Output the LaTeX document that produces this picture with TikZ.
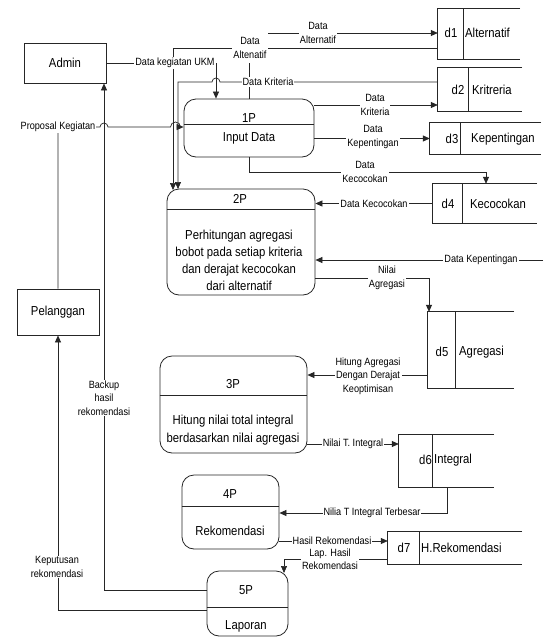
\documentclass[tikz,border=0pt]{standalone}
\usepackage{fontspec}
\setmainfont[FakeStretch=0.87]{Liberation Sans}
\usetikzlibrary{arrows.meta}
\tikzset{
  line/.style={draw=black!85, line width=0.7pt},
  flow/.style={line, -{Triangle[length=7pt,width=6pt]}},
  ent/.style={draw=black!85, line width=0.8pt, font=\fontsize{13}{15}\selectfont, inner sep=0pt},
  proc/.style={draw=black!85, line width=0.8pt, rounded corners=12pt, inner sep=0pt},
  store/.style={inner sep=0pt},
  ptext/.style={font=\fontsize{13}{17}\selectfont, align=center, inner sep=0pt},
  stext/.style={font=\fontsize{13}{15}\selectfont, inner sep=0pt},
  lbl/.style={fill=white, font=\fontsize{10.5}{13.5}\selectfont, align=center, inner sep=1pt},
}
\begin{document}
\begin{tikzpicture}[x=1pt,y=-1pt]
\fill[white] (0,0) rectangle (545,638);
\useasboundingbox (0,0) rectangle (545,638);

% external entities
\node[ent, minimum width=82pt, minimum height=40pt] (admin) at (65,63) {Admin};
\node[ent, minimum width=82pt, minimum height=46pt] (pel) at (58,312) {Pelanggan};

% processes
\node[proc, minimum width=130pt, minimum height=58pt] (p1) at (249,128) {};
\draw[line] (p1.west |- 0,124) -- (p1.east |- 0,124);
\node[ptext] (p1id) at (249,118) {1P};
\node[ptext] (p1t) at (249,138) {Input Data};

\node[proc, minimum width=148pt, minimum height=106pt] (p2) at (241,242) {};
\draw[line] (p2.west |- 0,209) -- (p2.east |- 0,209);
\node[ptext] (p2id) at (240,199) {2P};
\node[ptext] (p2t) at (239,260) {Perhitungan agregasi\\bobot pada setiap kriteria\\dan derajat kecocokan\\dari alternatif};

\node[proc, minimum width=147pt, minimum height=97pt] (p3) at (233.5,404.5) {};
\draw[line] (p3.west |- 0,395) -- (p3.east |- 0,395);
\node[ptext] (p3id) at (233,384) {3P};
\node[ptext, font=\fontsize{13}{18}\selectfont] (p3t) at (233,430) {Hitung nilai total integral\\berdasarkan nilai agregasi};

\node[proc, minimum width=97pt, minimum height=74pt] (p4) at (230.5,512) {};
\draw[line] (p4.west |- 0,506) -- (p4.east |- 0,506);
\node[ptext] (p4id) at (230,494) {4P};
\node[ptext] (p4t) at (230,531) {Rekomendasi};

\node[proc, minimum width=81pt, minimum height=65pt] (p5) at (247.5,603.5) {};
\draw[line] (p5.west |- 0,607) -- (p5.east |- 0,607);
\node[ptext] (p5id) at (246,590) {5P};
\node[ptext] (p5t) at (246,626) {Laporan};

% data stores
\node[store, minimum width=82pt, minimum height=50pt] (d1) at (479,34) {};
\draw[line] (d1.north east) -- (d1.north west) -- (d1.south west) -- (d1.south east);
\draw[line] (463,0 |- d1.north) -- (463,0 |- d1.south);
\node[stext] (d1id) at (451,33) {d1};
\node[stext, anchor=west] (d1t) at (465,33) {Alternatif};

\node[store, minimum width=84pt, minimum height=43pt] (d2) at (480,89.5) {};
\draw[line] (d2.north east) -- (d2.north west) -- (d2.south west) -- (d2.south east);
\draw[line] (468,0 |- d2.north) -- (468,0 |- d2.south);
\node[stext] (d2id) at (458,90) {d2};
\node[stext, anchor=west] (d2t) at (472,90) {Kritreria};

\node[store, minimum width=111pt, minimum height=31pt] (d3) at (485.5,138.5) {};
\draw[line] (d3.north east) -- (d3.north west) -- (d3.south west) -- (d3.south east);
\draw[line] (460,0 |- d3.north) -- (460,0 |- d3.south);
\node[stext] (d3id) at (452,139) {d3};
\node[stext] (d3t) at (503,139) {Kepentingan};

\node[store, minimum width=104pt, minimum height=39pt] (d4) at (485,203.5) {};
\draw[line] (d4.north east) -- (d4.north west) -- (d4.south west) -- (d4.south east);
\draw[line] (462,0 |- d4.north) -- (462,0 |- d4.south);
\node[stext] (d4id) at (448,204) {d4};
\node[stext] (d4t) at (498,204) {Kecocokan};

\node[store, minimum width=86pt, minimum height=76pt] (d5) at (471,350) {};
\draw[line] (d5.north east) -- (d5.north west) -- (d5.south west) -- (d5.south east);
\draw[line] (455,0 |- d5.north) -- (455,0 |- d5.south);
\node[stext] (d5id) at (442,352) {d5};
\node[stext, anchor=west] (d5t) at (459,352) {Agregasi};

\node[store, minimum width=95pt, minimum height=52pt] (d6) at (446.5,461) {};
\draw[line] (d6.north east) -- (d6.north west) -- (d6.south west) -- (d6.south east);
\draw[line] (432,0 |- d6.north) -- (432,0 |- d6.south);
\node[stext, anchor=east] (d6id) at (432,460) {d6};
\node[stext, anchor=west] (d6t) at (434,460) {Integral};

\node[store, minimum width=134pt, minimum height=33pt] (d7) at (455,548) {};
\draw[line] (d7.north east) -- (d7.north west) -- (d7.south west) -- (d7.south east);
\draw[line] (419,0 |- d7.north) -- (419,0 |- d7.south);
\node[stext] (d7id) at (404,548) {d7};
\node[stext, anchor=west] (d7t) at (421,548) {H.Rekomendasi};

% connectors
\draw[flow] (admin.east) -- (216,63) -- (216,0 |- p1.north);
\draw[flow] (d2.west |- 0,82) -- (220,82) arc[start angle=0,end angle=180,radius=4pt] -- (178,82) -- (178,189);
\draw[flow] (d1.west |- 0,48) -- (173,48) -- (173,190);
\draw[flow] (p1.north) -- (249,33) -- (d1.west |- 0,33);
\draw[flow] (p1.east |- 0,105) -- (d2.west |- 0,105);
\draw[flow] (p1.east |- d3.west) -- (d3.west);
\draw[flow] (p1.south) -- (249,172) -- (486,172) -- (486,0 |- d4.north);
\draw[flow] (d4.west) -- (p2.east |- d4.west);
\coordinate (kin) at (543,260);
\draw[flow] (kin) -- (p2.east |- kin);
\draw[flow] (p2.east |- 0,278) -- (429,278) -- (429,0 |- d5.north);
\draw[flow] (d5.west |- 0,375) -- (p3.east |- 0,375);
\draw[flow] (p3.east |- 0,444) -- (d6.west |- 0,444);
\draw[flow] (447,0 |- d6.south) -- (447,513) -- (p4.east |- 0,513);
\draw[flow] (p4.east |- 0,541) -- (d7.west |- 0,541);
\draw[flow] (d7.west |- 0,559) -- (284,559) -- (284,573);
\draw[flow] (p5.west |- 0,590) -- (104,590) -- (104,0 |- admin.south);
\draw[flow] (p5.west |- 0,610) -- (58,610) -- (pel.south);
\draw[flow] (pel.north) -- (58,127) -- (100,127) arc[start angle=180,end angle=0,radius=4pt] -- (170.5,127) arc[start angle=180,end angle=0,radius=5pt] -- (p1.west |- 0,127);

% labels
\node[lbl] (l1) at (175,63) {Data kegiatan UKM};
\node[lbl] (l2) at (268,82) {Data Kriteria};
\node[lbl, inner ysep=4.5pt] (l3) at (250,48) {Data\\Altenatif};
\node[lbl] (l4) at (318,33) {Data\\Alternatif};
\node[lbl] (l5) at (375,105) {Data\\Kriteria};
\node[lbl] (l6) at (373,137) {Data\\Kepentingan};
\node[lbl] (l7) at (365,172) {Data\\Kecocokan};
\node[lbl] (l8) at (374,204) {Data Kecocokan};
\node[lbl] (l9) at (481,260) {Data Kepentingan};
\node[lbl] (l10) at (387,278) {Nilai\\Agregasi};
\node[lbl] (l11) at (368,376) {Hitung Agregasi\\Dengan Derajat\\Keoptimisan};
\node[lbl] (l12) at (353,444) {Nilai T. Integral};
\node[lbl] (l13) at (372,513) {Nilia T Integral Terbesar};
\node[lbl] (l15) at (330,559) {Lap. Hasil\\Rekomendasi};
\node[lbl] (l14) at (332,541) {Hasil Rekomendasi};
\node[lbl] (l16) at (104,398) {Backup\\hasil\\rekomendasi};
\node[lbl] (l17) at (57,567) {Keputusan\\rekomendasi};
\node[lbl] (l18) at (58,127) {Proposal Kegiatan};
\end{tikzpicture}
\end{document}
